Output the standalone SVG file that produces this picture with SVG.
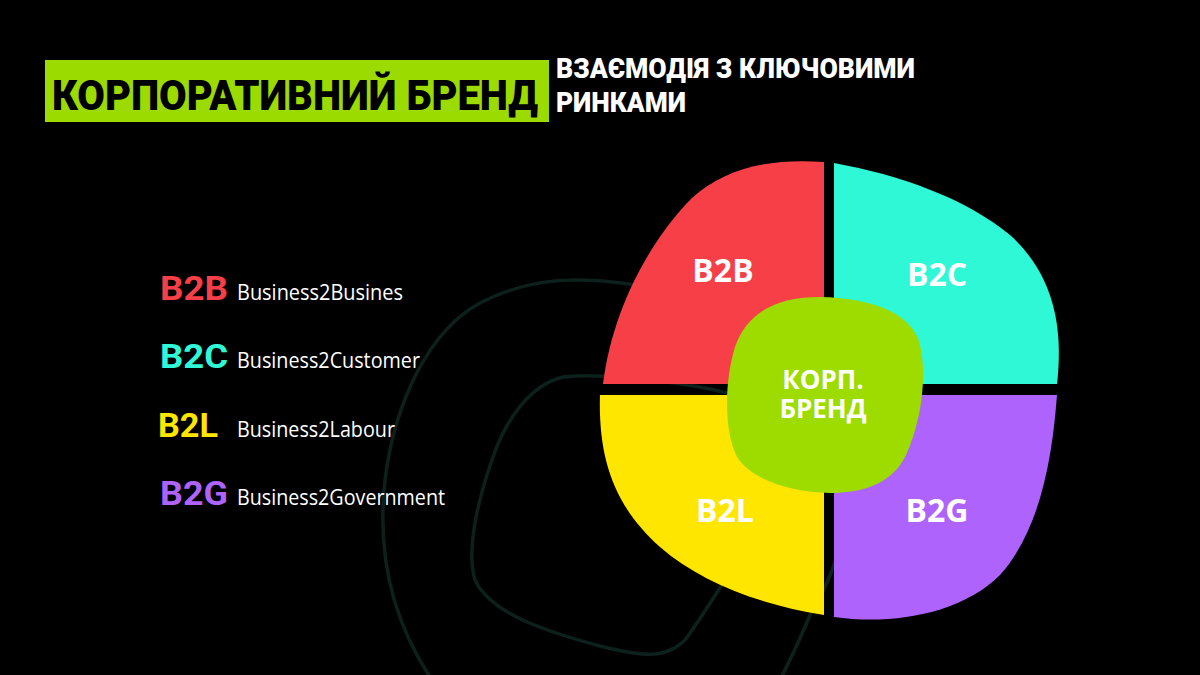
<svg xmlns="http://www.w3.org/2000/svg" width="1200" height="675" viewBox="0 0 1200 675">
<style>
.deco{fill:none;stroke:#0d211c;stroke-width:3.5}
.hb{font-family:Roboto,"Noto Sans",sans-serif;font-weight:900}
.lab{font-family:"Open Sans","Noto Sans",sans-serif;font-weight:700;fill:#fff;text-anchor:middle}
.leg{font-family:Roboto,"Noto Sans",sans-serif;font-weight:700;font-size:33px}
.desc{font-family:"Open Sans","Noto Sans",sans-serif;font-size:21px;fill:#fff}
</style>
<rect width="1200" height="675" fill="#000"/>
<g id="background">
<path class="deco" d="M 432 680 C 395 625 376 560 385 480 C 395 400 430 330 480 303 C 515 285 545 280 575 280 C 640 280 720 300 780 330 C 840 365 860 420 850 500 C 840 560 825 590 810 615 C 800 640 790 660 780 680"/>
<path class="deco" d="M 563 377 C 530 385 505 420 492 460 C 478 500 466 550 475 580 C 490 612 540 630 600 646 C 640 656 665 660 685 640 C 700 620 715 595 735 565 C 770 510 800 450 790 420 C 775 400 700 385 650 380 C 620 377 590 374 563 377 Z"/>
</g>
<g id="title">
<rect x="45" y="60" width="504" height="62" fill="#9cdb00"/>
<text class="hb" x="52" y="110" font-size="42" fill="#000" textLength="486" lengthAdjust="spacingAndGlyphs">КОРПОРАТИВНИЙ БРЕНД</text>
<text class="hb" x="556" y="78" font-size="27" fill="#fff" textLength="359" lengthAdjust="spacingAndGlyphs">ВЗАЄМОДІЯ З КЛЮЧОВИМИ</text>
<text class="hb" x="556" y="112" font-size="27" fill="#fff" textLength="130" lengthAdjust="spacingAndGlyphs">РИНКАМИ</text>
</g>
<g id="legend">
<text class="leg" x="160" y="300" fill="#f73f48" textLength="68" lengthAdjust="spacingAndGlyphs">B2B</text>
<text class="desc" x="237" y="300" textLength="166" lengthAdjust="spacingAndGlyphs">Business2Busines</text>
<text class="leg" x="160" y="368" fill="#2ef8d6" textLength="68" lengthAdjust="spacingAndGlyphs">B2C</text>
<text class="desc" x="237" y="368" textLength="183" lengthAdjust="spacingAndGlyphs">Business2Customer</text>
<text class="leg" x="158" y="437" fill="#ffe600" textLength="60" lengthAdjust="spacingAndGlyphs">B2L</text>
<text class="desc" x="237" y="437" textLength="158" lengthAdjust="spacingAndGlyphs">Business2Labour</text>
<text class="leg" x="160" y="505" fill="#ae63fc" textLength="68" lengthAdjust="spacingAndGlyphs">B2G</text>
<text class="desc" x="237" y="505" textLength="208" lengthAdjust="spacingAndGlyphs">Business2Government</text>
</g>
<g id="b2b">
<path fill="#f73f48" d="M 824 162 C 770 158 725 168 692 198 C 650 240 612 310 603 384 L 824 384 Z"/>
<text class="lab" x="723" y="282" font-size="32">B2B</text>
</g>
<g id="b2c">
<path fill="#2ef8d6" d="M 834 163 C 900 175 965 198 1010 235 C 1060 280 1062 340 1057 384 L 834 384 Z"/>
<text class="lab" x="937" y="286" font-size="32">B2C</text>
</g>
<g id="b2l">
<path fill="#ffe600" d="M 600 395 L 824 395 L 824 615 C 760 605 700 582 660 547 C 615 507 598 460 600 395 Z"/>
<text class="lab" x="725" y="522" font-size="32">B2L</text>
</g>
<g id="b2g">
<path fill="#ae63fc" d="M 834 395 L 1057 395 C 1052 460 1040 530 1000 575 C 960 615 890 625 834 617 Z"/>
<text class="lab" x="937" y="522" font-size="32">B2G</text>
</g>
<g id="center">
<path fill="#9edc00" d="M 820 297 C 870 298 912 312 920 345 C 927 375 922 420 906 455 C 892 485 860 493 830 493 C 790 492 752 480 737 457 C 724 432 724 382 735 347 C 748 310 780 297 820 297 Z"/>
<text class="lab" x="823" y="389" font-size="26">КОРП.</text>
<text class="lab" x="823" y="418" font-size="26">БРЕНД</text>
</g>
</svg>
